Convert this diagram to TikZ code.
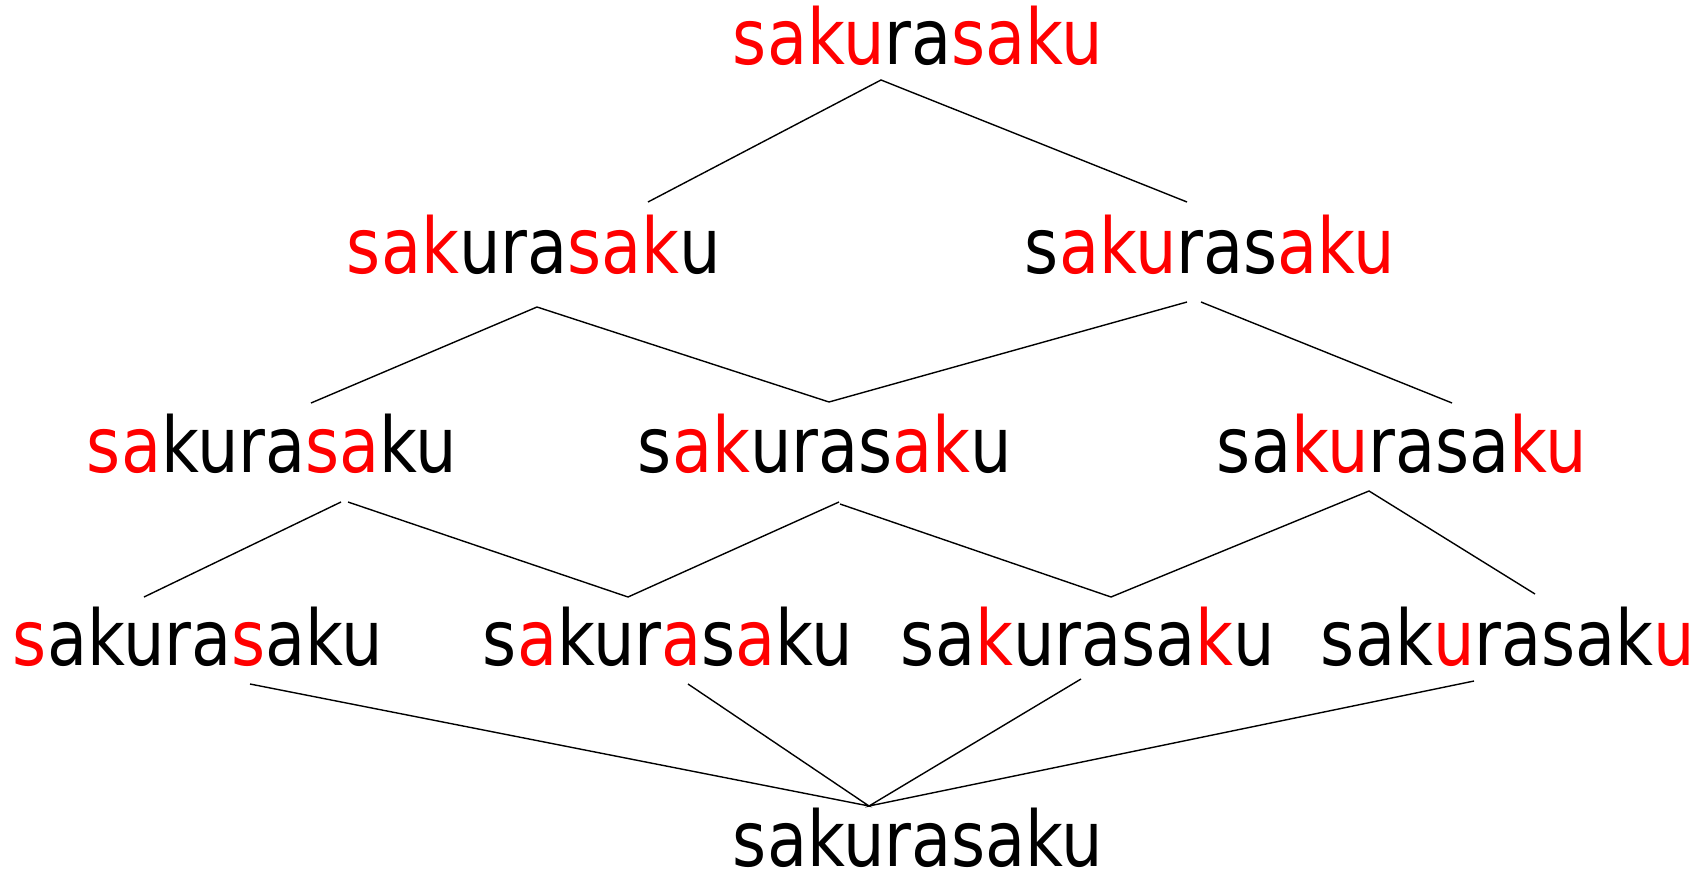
\documentclass[tikz,border=0pt]{standalone}
\usepackage{fontspec}
\setmainfont[FakeStretch=0.85]{DejaVu Sans}
\definecolor{SakuRed}{HTML}{FF0000}
\newcommand{\hl}[1]{\textcolor{SakuRed}{#1}}

\begin{document}
\begin{tikzpicture}[x=1pt,y=-1pt,
      word/.style={anchor=base,inner sep=0pt,font=\fontsize{77}{90}\selectfont},
      link/.style={draw=black,line width=1.4pt}
    ]
    \useasboundingbox (0,0) rectangle (1702,875);

    % words, one row per level
    \node[word] (top) at (918,65) {\hl{saku}ra\hl{saku}};

    \node[word] (twoL) at (534,273) {\hl{sak}ura\hl{sak}u};
    \node[word] (twoR) at (1210,273) {s\hl{aku}ras\hl{aku}};

    \node[word] (threeL) at (272,472) {\hl{sa}kura\hl{sa}ku};
    \node[word] (threeM) at (825,472) {s\hl{ak}uras\hl{ak}u};
    \node[word] (threeR) at (1402,472) {sa\hl{ku}rasa\hl{ku}};

    \node[word] (fourA) at (198,665) {\hl{s}akura\hl{s}aku};
    \node[word] (fourB) at (668,665) {s\hl{a}kur\hl{a}s\hl{a}ku};
    \node[word] (fourC) at (1088,665) {sa\hl{k}urasa\hl{k}u};
    \node[word] (fourD) at (1508,665) {sak\hl{u}rasak\hl{u}};

    \node[word] (bottom) at (918,866) {sakurasaku};

    % joints
    \coordinate (topJ) at (881,80);
    \coordinate (twoLup) at (648,202);
    \coordinate (twoRup) at (1187,202);

    \coordinate (twoLJ) at (537,307);
    \coordinate (twoRJa) at (1187,302);
    \coordinate (twoRJb) at (1201,302);
    \coordinate (threeLup) at (311,403);
    \coordinate (threeMup) at (829,402);
    \coordinate (threeRup) at (1452,403);

    \coordinate (threeLJa) at (341,502);
    \coordinate (threeLJb) at (348,502);
    \coordinate (threeMJa) at (839,502);
    \coordinate (threeMJb) at (840,504);
    \coordinate (threeRJ) at (1369,491);
    \coordinate (fourAup) at (144,597);
    \coordinate (fourBup) at (628,597);
    \coordinate (fourCup) at (1111,597);
    \coordinate (fourDup) at (1535,594);

    \coordinate (fourAdn) at (250,684);
    \coordinate (fourBdn) at (688,684);
    \coordinate (fourCdn) at (1081,679);
    \coordinate (fourDdn) at (1474,681);
    \coordinate (bottomJ) at (869,806);

    % connectors
    \draw[link] (twoLup) -- (topJ) -- (twoRup);

    \draw[link] (threeLup) -- (twoLJ) -- (threeMup) -- (twoRJa);
    \draw[link] (twoRJb) -- (threeRup);

    \draw[link] (fourAup) -- (threeLJa);
    \draw[link] (threeLJb) -- (fourBup) -- (threeMJa);
    \draw[link] (threeMJb) -- (fourCup) -- (threeRJ) -- (fourDup);

    \draw[link] (fourAdn) -- (bottomJ) -- (fourBdn);
    \draw[link] (fourCdn) -- (bottomJ) -- (fourDdn);
  \end{tikzpicture}
\end{document}
